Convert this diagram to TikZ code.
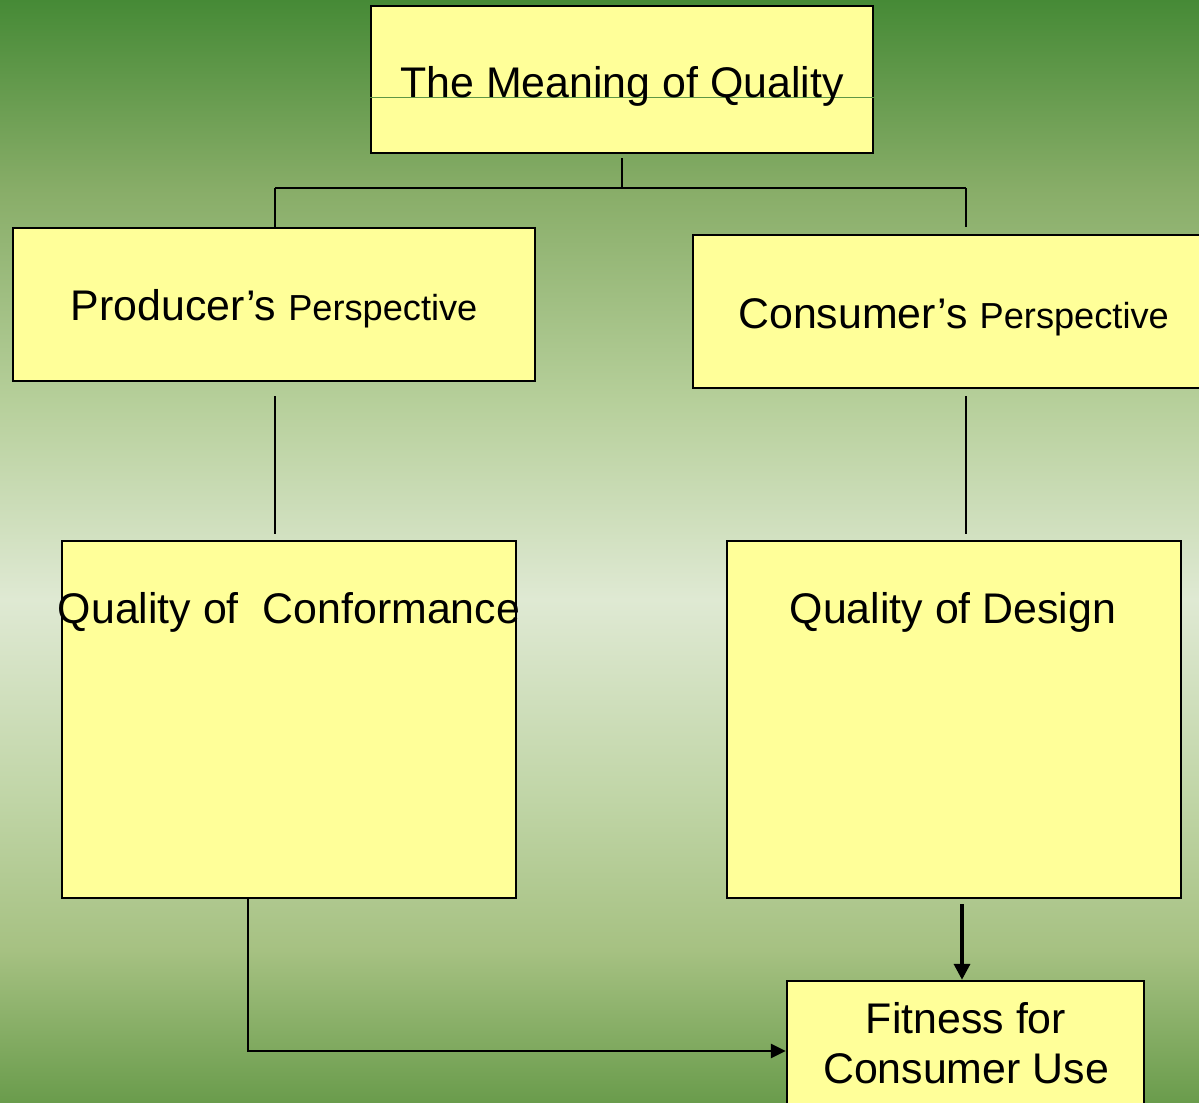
\documentclass[tikz,border=0pt]{standalone}
\usepackage{fontspec}
\setmainfont{Liberation Sans}
\usetikzlibrary{arrows.meta,calc}
\definecolor{boxfill}{HTML}{FFFF99}
\definecolor{gtop}{HTML}{468A36}
\definecolor{g190}{HTML}{88AD68}
\definecolor{g400}{HTML}{B6CF9A}
\definecolor{g600}{HTML}{DFE9D3}
\definecolor{g800}{HTML}{C0D5A6}
\definecolor{g950}{HTML}{A6C182}
\definecolor{gbot}{HTML}{6A9C4C}
\definecolor{seam}{HTML}{5E9646}
\pgfdeclareverticalshading{bgshade}{100bp}{color(0bp)=(gbot); color(25bp)=(gbot); color(31.9bp)=(g950); color(38.7bp)=(g800); color(47.8bp)=(g600); color(56.85bp)=(g400); color(66.4bp)=(g190); color(75bp)=(gtop); color(100bp)=(gtop)}
\tikzset{
  box/.style={draw=black, line width=1.4pt, fill=boxfill, rectangle, inner sep=0pt},
  conn/.style={draw=black, line width=1.3pt},
  arr/.style={draw=black, line width=1.3pt, -{Triangle[length=8.5pt,width=8pt]}},
  thickarr/.style={draw=black, line width=2pt, -{Triangle[length=9pt,width=9pt]}},
  big/.style={font=\fontsize{24.4}{28}\selectfont, text=black, inner sep=0pt, anchor=base},
}
\newcommand{\smallp}{\fontsize{20.6}{24}\selectfont}
\begin{document}
\begin{tikzpicture}[x=0.02cm, y=-0.02cm]
\useasboundingbox (0,0) rectangle (1199,1102);
\clip (0,0) rectangle (1199,1102);
\shade[shading=bgshade] (0,0) rectangle (1199,1102);

% boxes
\node[box, minimum width=10.04cm, minimum height=2.94cm] (title) at (622,79.5) {};
\draw[seam, line width=0.5pt] (title.west |- 0,97) -- (title.east |- 0,97);
\node[box, minimum width=10.44cm, minimum height=3.06cm] (prod) at (274,304.5) {};
\node[box, minimum width=10.4cm, minimum height=3.06cm] (cons) at (953,311.5) {};
\node[box, minimum width=9.08cm, minimum height=7.14cm] (conf) at (289,719.5) {};
\node[box, minimum width=9.08cm, minimum height=7.14cm] (design) at (954,719.5) {};
\node[box, minimum width=7.14cm, minimum height=2.68cm] (fit) at (965.5,1048) {};

% texts
\node[big] (ttitle) at (622,97) {The Meaning of Quality};
\node[big] (tprod) at (274,320) {Producer’s {\smallp Perspective}};
\node[big] (tcons) at (953.5,328) {Consumer’s {\smallp Perspective}};
\node[big] (tconf) at (289,623) {Quality of\ \ Conformance};
\node[big] (tdes) at (953,623) {Quality of Design};
\node[big] (tfit1) at (966,1033) {Fitness for};
\node[big] (tfit2) at (966,1083) {Consumer Use};

% connectors
\coordinate (jt) at (622,188);
\coordinate (jl) at (275,188);
\coordinate (jr) at (966,188);
\draw[conn] ($(title.south)+(0,4)$) -- (jt);
\draw[conn] (jl) -- (jr);
\draw[conn] (jl) -- (jl |- prod.north);
\draw[conn] (jr) -- ($(jr |- cons.north)+(0,-7)$);
\draw[conn] ($(prod.south)+(1,14)$) -- ($(prod.south |- conf.north)+(1,-6)$);
\draw[conn] ($(cons.south)+(13,7)$) -- ($(cons.south |- design.north)+(13,-6)$);
\coordinate (fa) at ($(fit.north)+(-3.5,0)$);
\draw[thickarr] ($(design.south -| fa)+(0,5)$) -- (fa);
\draw[arr] ($(conf.south)+(-41,0)$) |- ($(fit.west)+(0,3)$);
\end{tikzpicture}
\end{document}
